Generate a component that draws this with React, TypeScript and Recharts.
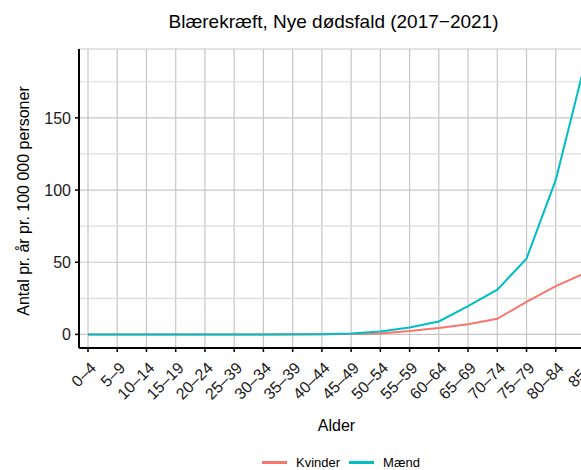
import React from "react";
import { LineChart, Line, XAxis, YAxis, CartesianGrid, ReferenceLine } from "recharts";

const ageGroups = ["0–4","5–9","10–14","15–19","20–24","25–39","30–34","35–39","40–44","45–49","50–54","55–59","60–64","65–69","70–74","75–79","80–84","85+"];
const kvinder = [0,0,0,0,0,0,0,0,0.1,0.3,0.7,2.3,4.4,7.1,10.8,22.6,33.4,42.5];
const maend = [0,0,0,0,0,0,0,0.1,0.2,0.7,2.0,4.8,9.0,19.6,31.0,52.5,107,188];
const yTicks = [0, 50, 100, 150];
const yMinor = [25, 75, 125, 175];

const data = ageGroups.map((g, i) => ({ age: g, Kvinder: kvinder[i], Maend: maend[i] }));

const FONT = "'Liberation Sans', Arial, Helvetica, sans-serif";

const XTick = (props: any) => {
  const { x, y, payload } = props;
  return (
    <g transform={`translate(${x + 9},${y + 15})`}>
      <text transform="rotate(-45)" textAnchor="end" fontSize={16} fill="#1a1a1a" fontFamily={FONT}>
        {payload.value}
      </text>
    </g>
  );
};

export default function App() {
  return (
    <div style={{ position: "fixed", left: 0, top: 0, width: 581, height: 470, overflow: "hidden", background: "#fff" }}>
      <div style={{ position: "absolute", left: 8, top: 8, width: 573, height: 462, overflow: "hidden", fontFamily: FONT }}>
        <div style={{ position: "absolute", left: 0, top: 3, width: 651, textAlign: "center", fontSize: 19, color: "#000", whiteSpace: "nowrap" }}>
          Blærekræft, Nye dødsfald (2017−2021)
        </div>
        <div style={{ position: "absolute", left: 16, top: 193, width: 0, height: 0 }}>
          <div style={{ position: "absolute", transform: "translate(-50%,-50%) rotate(-90deg)", whiteSpace: "nowrap", fontSize: 16, color: "#000" }}>
            Antal pr. år pr. 100 000 personer
          </div>
        </div>
        <LineChart width={590} height={470} data={data} margin={{ top: 41, right: 4, left: 0, bottom: 70 }}>
          <CartesianGrid stroke="#c6c6c6" strokeWidth={1.2} />
          {yMinor.map((v) => (
            <ReferenceLine key={v} y={v} stroke="#dcdcdc" strokeWidth={1.2} />
          ))}
          <XAxis
            dataKey="age"
            padding={{ left: 9, right: 9 }}
            interval={0}
            tick={<XTick />}
            tickLine={{ stroke: "#000", strokeWidth: 1.5 }}
            tickSize={4}
            axisLine={{ stroke: "#000", strokeWidth: 2 }}
            height={60}
          />
          <YAxis
            domain={[-9.4, 197.7]}
            ticks={yTicks}
            allowDataOverflow
            width={71}
            tick={{ fontSize: 16, fill: "#1a1a1a", fontFamily: FONT }}
            tickLine={{ stroke: "#000", strokeWidth: 1.5 }}
            tickSize={4}
            tickMargin={4}
            axisLine={{ stroke: "#000", strokeWidth: 2 }}
          />
          <Line dataKey="Kvinder" stroke="#F8766D" strokeWidth={2} dot={false} isAnimationActive={false} />
          <Line dataKey="Maend" stroke="#00BFC4" strokeWidth={2} dot={false} isAnimationActive={false} />
        </LineChart>
        <div style={{ position: "absolute", left: 0, top: 409, width: 657, textAlign: "center", fontSize: 16, color: "#000" }}>
          Alder
        </div>
        <div style={{ position: "absolute", left: 254, top: 447, display: "flex", alignItems: "center", fontSize: 13, color: "#000", whiteSpace: "nowrap" }}>
          <span style={{ display: "inline-block", width: 25, height: 2.5, background: "#F8766D", marginRight: 9 }} />
          <span style={{ marginRight: 9 }}>Kvinder</span>
          <span style={{ display: "inline-block", width: 25, height: 2.5, background: "#00BFC4", marginRight: 9 }} />
          <span>Mænd</span>
        </div>
      </div>
    </div>
  );
}
